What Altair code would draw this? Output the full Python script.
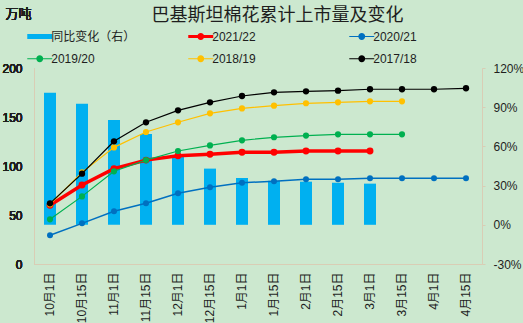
import altair as alt
import pandas as pd

dates = ["10月1日", "10月15日", "11月1日", "11月15日", "12月1日", "12月15日", "1月1日",
         "1月15日", "2月1日", "2月15日", "3月1日", "3月15日", "4月1日", "4月15日"]

series_names = ["同比变化（右）", "2021/22", "2020/21", "2019/20", "2018/19", "2017/18"]
series_colors = ["#00B0F0", "#FF0000", "#0070C0", "#00B050", "#FFC000", "#000000"]

yoy = [1.01, 0.927, 0.802, 0.695, 0.526, 0.43, 0.358, 0.337, 0.33, 0.322, 0.315]
s2122 = [59.9, 80.6, 97.3, 106.0, 110.5, 111.9, 114.0, 114.0, 115.3, 115.3, 115.3]
s2021 = [29.3, 41.5, 53.8, 61.9, 72.1, 78.3, 83.0, 84.4, 86.4, 86.4, 87.4, 87.4, 87.4, 87.4]
s1920 = [45.6, 69.0, 94.6, 106.0, 115.3, 121.0, 126.2, 129.3, 131.0, 132.3, 132.3, 132.3]
s1819 = [61.0, 93.5, 119.0, 134.7, 144.6, 153.7, 158.8, 161.6, 164.0, 165.0, 166.0, 166.0]
s1718 = [61.9, 92.2, 125.2, 144.6, 156.8, 165.0, 171.4, 175.2, 176.2, 176.9, 178.3, 178.3, 178.3, 179.3]

line_series = [("2021/22", s2122), ("2020/21", s2021), ("2019/20", s1920),
               ("2018/19", s1819), ("2017/18", s1718)]
line_widths = {"2021/22": 3.5, "2020/21": 1.5, "2019/20": 1.2, "2018/19": 1.2, "2017/18": 1.2}
point_sizes = {"2021/22": 48, "2020/21": 36, "2019/20": 38, "2018/19": 38, "2017/18": 40}

# legend symbol glyphs (unit path, scaled by the legend symbol size)
CIRCLE = "M0.55,0A0.55,0.55,0,1,1,-0.55,0A0.55,0.55,0,1,1,0.55,0Z"
THIN = "M-2,-0.1H2V0.1H-2Z" + CIRCLE
THICK = "M-2,-0.25H2V0.25H-2Z" + CIRCLE
BAR = "M-2,-0.4H2V0.4H-2Z"
legend_shapes = [BAR, THICK, THIN, THIN, THIN, THIN]

FONT = "Liberation Sans, Noto Sans CJK SC, sans-serif"
AXIS_COLOR = "#D9CDB5"
TEXT_COLOR = "#1E1E1E"

x_enc = alt.X(
    "date:N", sort=dates,
    scale=alt.Scale(domain=dates, paddingInner=0.625, paddingOuter=0.3125),
    axis=alt.Axis(title=None, labelAngle=-90, ticks=False, domainColor=AXIS_COLOR,
                  labelFontSize=12, labelPadding=8, labelColor=TEXT_COLOR, labelFont=FONT,
                  grid=False, labelOverlap=False),
)

left_axis = alt.Axis(
    orient="left", values=[0, 50, 100, 150, 200], grid=False, tickSize=0,
    domainColor=AXIS_COLOR, labelPadding=12, labelFontSize=12, labelColor=TEXT_COLOR,
    labelFont=FONT, title="万吨", titleAngle=0, titleX=-29, titleY=-55, titleAlign="left",
    titleBaseline="middle", titleFontSize=13, titleFontWeight="normal", titleFont=FONT,
    titleColor=TEXT_COLOR,
)
left_scale = alt.Scale(domain=[0, 200], nice=False)

bar_df = pd.DataFrame({"date": dates[:len(yoy)], "yoy": yoy})
bars = alt.Chart(bar_df).mark_bar(color="#00B0F0").encode(
    x=x_enc,
    y=alt.Y("yoy:Q", scale=alt.Scale(domain=[-0.3, 1.2], nice=False, zero=False),
            axis=alt.Axis(orient="right", values=[-0.3, 0, 0.3, 0.6, 0.9, 1.2],
                          labelExpr="round(datum.value*100) + '%'", grid=False,
                          tickSize=3, tickColor=AXIS_COLOR, domainColor=AXIS_COLOR,
                          labelPadding=8, labelFontSize=12, labelColor=TEXT_COLOR,
                          labelFont=FONT, title=None)),
    y2=alt.datum(0),
)

legend = alt.Legend(
    title=None, orient="none", legendX=-0.75, legendY=-38.25, columns=3,
    direction="horizontal", gridAlign="all", columnPadding=52, rowPadding=9.5,
    symbolSize=156, labelOffset=5, labelFontSize=12, labelFont=FONT,
    labelColor=TEXT_COLOR, padding=0, labelLimit=300, symbolOpacity=1,
    symbolStrokeWidth=0,
)

# line colours use their own (5-entry) scales, so that they are not merged with the legend
line_names = [n for n, _ in line_series]
line_colors = series_colors[1:]

layers = [bars]
for name, vals in line_series:
    df = pd.DataFrame({"date": dates[:len(vals)], "value": vals, "series": name})
    base = alt.Chart(df).encode(
        x=x_enc,
        y=alt.Y("value:Q", scale=left_scale, axis=left_axis),
    )
    layers.append(base.mark_line(strokeWidth=line_widths[name]).encode(
        stroke=alt.Stroke("series:N", scale=alt.Scale(domain=line_names, range=line_colors),
                          legend=None)))
    layers.append(base.mark_circle(size=point_sizes[name], opacity=1).encode(
        fill=alt.Fill("series:N", scale=alt.Scale(domain=line_names, range=line_colors),
                      legend=None)))

legend_layer = alt.Chart(pd.DataFrame({"series": series_names})).mark_point(
    filled=True, opacity=0
).encode(
    color=alt.Color("series:N", scale=alt.Scale(domain=series_names, range=series_colors),
                    legend=legend),
    shape=alt.Shape("series:N", scale=alt.Scale(domain=series_names, range=legend_shapes),
                    legend=legend),
)
layers.append(legend_layer)

chart = alt.layer(*layers).resolve_scale(y="independent").properties(
    width=448, height=196,
    title=alt.TitleParams("巴基斯坦棉花累计上市量及变化", fontSize=18, font=FONT,
                          fontWeight="normal", color=TEXT_COLOR, anchor="middle",
                          frame="group", dx=19.5, dy=24, offset=6),
    autosize=alt.AutoSizeParams(type="none"),
    padding={"left": 34, "top": 68, "right": 41, "bottom": 59},
    background="#CCE8CF",
).configure_view(stroke=None)

chart.save("out.html", embed_options={"renderer": "svg", "actions": False})
